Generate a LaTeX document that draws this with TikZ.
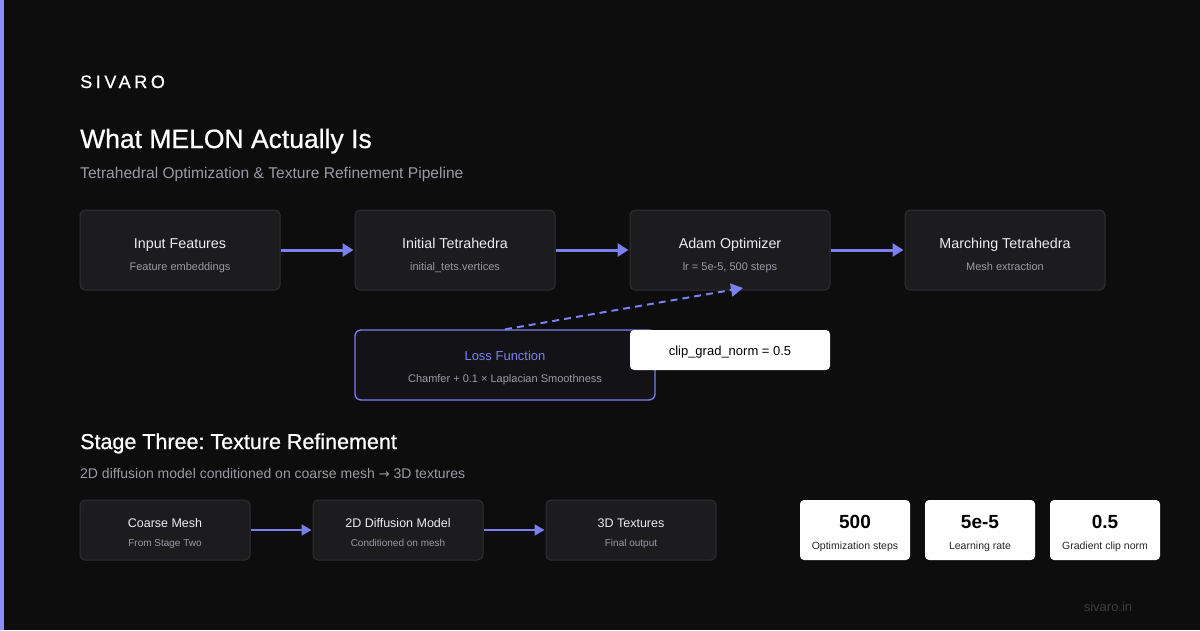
\documentclass[tikz,border=0pt]{standalone}
\usepackage{fontspec}
\setmainfont{Liberation Sans}
\newfontfamily\spacedfont[LetterSpace=20,FakeBold=0.8]{Liberation Sans}
\newfontfamily\medfont[FakeBold=0.8]{Liberation Sans}
\newfontfamily\symfont{DejaVu Sans}
\frenchspacing
\usetikzlibrary{arrows.meta}
\definecolor{bg}{HTML}{0D0D0D}
\definecolor{accent}{HTML}{7B80F0}
\definecolor{bar}{HTML}{8C8CFF}
\definecolor{boxfill}{HTML}{1C1C1F}
\definecolor{boxline}{HTML}{2F2F33}
\definecolor{losfill}{HTML}{131317}
\definecolor{subgray}{HTML}{9A9AA4}
\definecolor{titlew}{HTML}{EDEDED}
\definecolor{foot}{HTML}{3C3C3C}
\tikzset{
  stagebox/.style={draw=boxline, line width=1pt, fill=boxfill, rounded corners=5pt, inner sep=0pt},
  ttl/.style={text=titlew, font=\fontsize{14.3}{16}\selectfont, inner sep=0pt, anchor=base},
  sub/.style={text=subgray, font=\fontsize{11}{13}\selectfont, inner sep=0pt, anchor=base},
  sttl/.style={text=titlew, font=\fontsize{12.5}{15}\selectfont, inner sep=0pt, anchor=base},
  ssub/.style={text=subgray, font=\fontsize{10}{12}\selectfont, inner sep=0pt, anchor=base},
  flow/.style={draw=accent, line width=3pt, -{Triangle[length=11pt,width=13pt]}},
  sflow/.style={draw=accent, line width=2pt, -{Triangle[length=10pt,width=11pt]}},
  whitebox/.style={fill=white, rounded corners=4pt, inner sep=0pt},
}
\begin{document}
\begin{tikzpicture}[x=1pt,y=-1pt]
\fill[bg] (0,0) rectangle (1200,630);
\useasboundingbox (0,0) rectangle (1200,630);
\fill[bar] (0,0) rectangle (4,630);

\node[anchor=base west, text=white, inner sep=0pt, font=\spacedfont\fontsize{18}{20}\selectfont] (brand) at (80,88) {SIVARO};
\node[anchor=base west, text=white, inner sep=0pt, font=\medfont\fontsize{26.5}{30}\selectfont] (title) at (80,148) {What MELON Actually Is};
\node[anchor=base west, text=subgray, inner sep=0pt, font=\fontsize{15.6}{18}\selectfont] (subtitle) at (80,178) {Tetrahedral Optimization \& Texture Refinement Pipeline};

% top row
\node[stagebox, minimum width=200pt, minimum height=80pt] (b1) at (180,250) {};
\node[stagebox, minimum width=200pt, minimum height=80pt] (b2) at (455,250) {};
\node[stagebox, minimum width=200pt, minimum height=80pt] (b3) at (730,250) {};
\node[stagebox, minimum width=200pt, minimum height=80pt] (b4) at (1005,250) {};
\node[ttl] (b1t) at (180,248) {Input Features};
\node[sub] (b1s) at (180,270) {Feature embeddings};
\node[ttl] (b2t) at (455,248) {Initial Tetrahedra};
\node[sub] (b2s) at (455,270) {initial\_tets.vertices};
\node[ttl] (b3t) at (730,248) {Adam Optimizer};
\node[sub] (b3s) at (730,270) {lr = 5e-5, 500 steps};
\node[ttl] (b4t) at (1005,248) {Marching Tetrahedra};
\node[sub] (b4s) at (1005,270) {Mesh extraction};
\draw[flow] (b1.east) -- ([xshift=-1pt]b2.west);
\draw[flow] (b2.east) -- ([xshift=-1pt]b3.west);
\draw[flow] (b3.east) -- ([xshift=-1pt]b4.west);

% loss function
\node[draw=accent, line width=1.3pt, fill=losfill, rounded corners=6pt, minimum width=300pt, minimum height=70pt, inner sep=0pt] (loss) at (505,365) {};
\node[text=accent, inner sep=0pt, anchor=base, font=\fontsize{13}{15}\selectfont] (losst) at (505,360) {Loss Function};
\node[sub] (losss) at (505,382) {Chamfer + 0.1 × Laplacian Smoothness};
\coordinate (dashend) at (743,288);
\draw[draw=accent, line width=2pt, dash pattern=on 7pt off 5pt, -{Triangle[length=12pt,width=13pt]}] (loss.north) -- (dashend);

\node[whitebox, minimum width=200pt, minimum height=40pt] (clip) at (730,350) {};
\node[text=black, inner sep=0pt, anchor=base, font=\fontsize{13}{15}\selectfont] (clipt) at (730,355.5) {clip\_grad\_norm = 0.5};

% stage three
\node[anchor=base west, text=white, inner sep=0pt, font=\medfont\fontsize{21.5}{24}\selectfont] (stage) at (80,449) {Stage Three: Texture Refinement};
\node[anchor=base west, text=subgray, inner sep=0pt, font=\fontsize{14}{16}\selectfont] (stagesub) at (80,478) {2D diffusion model conditioned on coarse mesh {\symfont\fontsize{13}{14}\selectfont →} 3D textures};

\node[stagebox, minimum width=170pt, minimum height=60pt] (c1) at (165,530) {};
\node[stagebox, minimum width=170pt, minimum height=60pt] (c2) at (398,530) {};
\node[stagebox, minimum width=170pt, minimum height=60pt] (c3) at (631,530) {};
\node[sttl] (c1t) at (165,527.5) {Coarse Mesh};
\node[sttl] (c2t) at (398,527.5) {2D Diffusion Model};
\node[sttl] (c3t) at (631,527.5) {3D Textures};
\node[ssub] (c1s) at (165,546) {From Stage Two};
\node[ssub] (c2s) at (398,546) {Conditioned on mesh};
\node[ssub] (c3s) at (631,546) {Final output};
\draw[sflow] (c1.east) -- ([xshift=-1pt]c2.west);
\draw[sflow] (c2.east) -- ([xshift=-1pt]c3.west);

% stats
\node[whitebox, minimum width=110pt, minimum height=60pt] (s1) at (855,530) {};
\node[whitebox, minimum width=110pt, minimum height=60pt] (s2) at (980,530) {};
\node[whitebox, minimum width=110pt, minimum height=60pt] (s3) at (1105,530) {};
\node[text=black, inner sep=0pt, anchor=base, font=\bfseries\fontsize{19}{22}\selectfont] (s1n) at (855,528) {500};
\node[text=black, inner sep=0pt, anchor=base, font=\bfseries\fontsize{19}{22}\selectfont] (s2n) at (980,528) {5e-5};
\node[text=black, inner sep=0pt, anchor=base, font=\bfseries\fontsize{19}{22}\selectfont] (s3n) at (1105,528) {0.5};
\node[text=black!85, inner sep=0pt, anchor=base, font=\fontsize{10.5}{12}\selectfont] (s1l) at (855,549) {Optimization steps};
\node[text=black!85, inner sep=0pt, anchor=base, font=\fontsize{10.5}{12}\selectfont] (s2l) at (980,549) {Learning rate};
\node[text=black!85, inner sep=0pt, anchor=base, font=\fontsize{10.5}{12}\selectfont] (s3l) at (1105,549) {Gradient clip norm};

\node[text=foot, inner sep=0pt, anchor=base, font=\fontsize{13}{15}\selectfont] (footer) at (1108,611) {sivaro.in};
\end{tikzpicture}
\end{document}
